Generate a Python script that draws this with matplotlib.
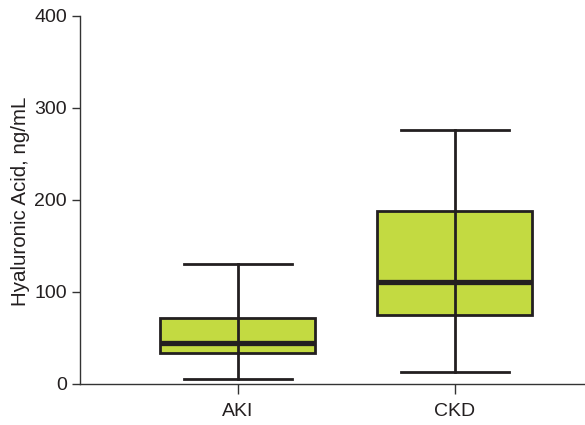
import matplotlib
matplotlib.use("Agg")
import matplotlib.pyplot as plt

categories = ["AKI", "CKD"]
whisker_low = [5, 13]
q1 = [34, 75]
median = [45, 111]
q3 = [72, 188]
whisker_high = [130, 276]
yticks = [0, 100, 200, 300, 400]

plt.rcParams['font.family'] = ['Liberation Sans', 'DejaVu Sans']

fig = plt.figure(figsize=(5.85, 4.25), dpi=100)
ax = fig.add_axes([80/585, 41/425, 505/585, 368/425])

stats = []
for i, c in enumerate(categories):
    stats.append(dict(label=c, whislo=whisker_low[i], q1=q1[i], med=median[i],
                      q3=q3[i], whishi=whisker_high[i], fliers=[]))

dark = "#231f20"
ax.bxp(stats, positions=[1, 2], widths=0.714, patch_artist=True,
       showfliers=False,
       boxprops=dict(facecolor="#c3da41", edgecolor=dark, linewidth=2.0),
       medianprops=dict(color=dark, linewidth=3.8, solid_capstyle='butt'),
       whiskerprops=dict(color=dark, linewidth=2.0),
       capprops=dict(color=dark, linewidth=2.0),
       capwidths=0.5)

# whisker through box
for i in range(len(categories)):
    ax.plot([i + 1, i + 1], [q1[i], q3[i]], color=dark, linewidth=2.0, zorder=3)

ax.set_xlim(0.272, 2.6)
ax.set_ylim(0, 400)
ax.set_yticks(yticks)
ax.set_xticks([1, 2])
ax.set_xticklabels(categories)
ax.spines['top'].set_visible(False)
ax.spines['right'].set_visible(False)
for s in ['left', 'bottom']:
    ax.spines[s].set_color('#333333')
    ax.spines[s].set_linewidth(1.0)
ax.tick_params(axis='y', direction='out', length=5.8, width=1.0, color='#333333',
               labelsize=14, labelcolor='#231f20', pad=3.6)
ax.tick_params(axis='x', direction='out', length=7.5, width=1.0, color='#333333',
               labelsize=14, labelcolor='#231f20', pad=6)
ax.set_ylabel("Hyaluronic Acid, ng/mL", fontsize=14.8, color='#231f20')
ax.yaxis.set_label_coords(-0.099, 0.496)

fig.savefig("out.png", dpi=100)
